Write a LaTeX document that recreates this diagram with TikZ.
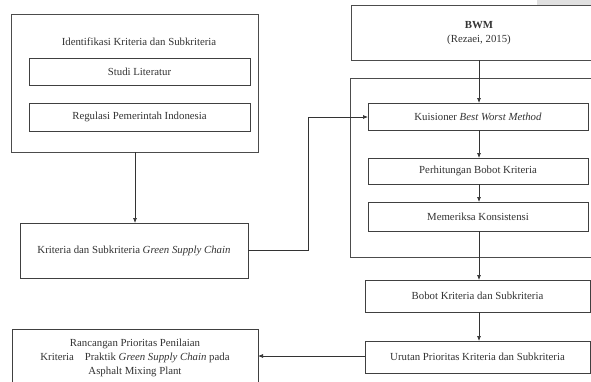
\documentclass[tikz,border=0pt]{standalone}
\usepackage{fontspec}
\setmainfont{Liberation Serif}
\usetikzlibrary{arrows.meta}
\begin{document}
\begin{tikzpicture}[x=1pt,y=-1pt,
  box/.style={draw=black!75,line width=0.8pt,inner sep=0pt},
  grp/.style={draw=black!70,line width=0.7pt},
  lbl/.style={font=\fontsize{10.8}{14}\selectfont,text=black!80,align=center,inner sep=0pt},
  conn/.style={draw=black!80,line width=0.7pt,-{Latex[length=5pt,width=4pt]}},
  plain/.style={draw=black!80,line width=0.7pt}]
\useasboundingbox (0,0) rectangle (591,381);
\fill[white] (0,0) rectangle (591,381);
\begin{scope}
\clip (0,0) rectangle (591,381);
\fill[black!12] (537,0) rectangle (591,5);
% left group
\draw[grp] (11,14) rectangle (258,152);
\node[lbl] (idt) at (139,42) {Identifikasi Kriteria dan Subkriteria};
\draw[box] (29,58) rectangle (250,85);
\node[lbl] (stl) at (139.5,71.5) {Studi Literatur};
\draw[box] (29,103) rectangle (250,131);
\node[lbl] (reg) at (139.5,117) {Regulasi Pemerintah Indonesia};
\coordinate (lgb) at (135,152);
% kriteria
\draw[box] (20,223) rectangle (248,278);
\node[lbl] (krt) at (134,251) {Kriteria dan Subkriteria \textit{Green Supply Chain}};
\coordinate (krtr) at (248,250);
\coordinate (krtt) at (135,223);
% rancangan
\draw[box] (12,329) rectangle (258,400);
\node[lbl] (ran) at (135,357.5) {Rancangan Prioritas Penilaian\\Kriteria\quad Praktik \textit{Green Supply Chain} pada\\Asphalt Mixing Plant};
\coordinate (ranr) at (258,356);
% BWM
\draw[grp] (351,5) rectangle (620,60);
\node[lbl] (bwm) at (479,33) {\textbf{BWM}\\(Rezaei, 2015)};
\coordinate (bwmb) at (479,60);
\draw[grp] (350,78) rectangle (620,257);
\draw[box] (368,103) rectangle (588,130);
\node[lbl] (kui) at (478,117) {Kuisioner \textit{Best Worst Method}};
\draw[box] (368,158) rectangle (588,184);
\node[lbl] (per) at (478,171) {Perhitungan Bobot Kriteria};
\draw[box] (368,202) rectangle (588,231);
\node[lbl] (mer) at (478,216.5) {Memeriksa Konsistensi};
\draw[box] (365,280) rectangle (590,312);
\node[lbl] (bob) at (477.5,296) {Bobot Kriteria dan Subkriteria};
\draw[box] (365,341) rectangle (590,373);
\node[lbl] (uru) at (477.5,357) {Urutan Prioritas Kriteria dan Subkriteria};
% connectors
\draw[conn] (lgb) -- (krtt);
\draw[conn] (krtr) -- (308,250) -- (308,117) -- (368,117);
\draw[conn] (bwmb) -- (479,103);
\draw[conn] (479,130) -- (479,158);
\draw[conn] (479,184) -- (479,202);
\draw[conn] (479,231) -- (479,280);
\draw[conn] (479,312) -- (479,341);
\draw[conn] (365,356) -- (ranr);
\end{scope}
\end{tikzpicture}
\end{document}
